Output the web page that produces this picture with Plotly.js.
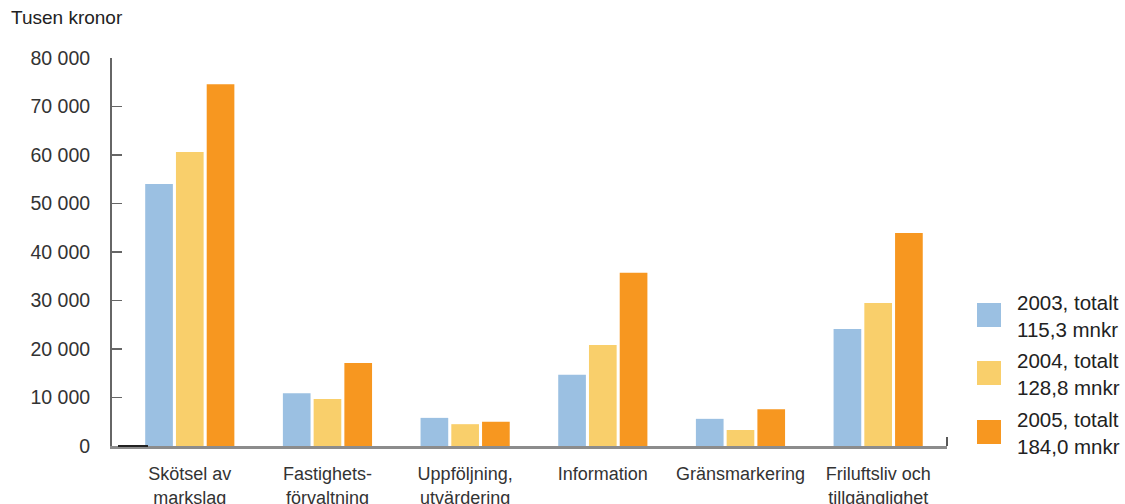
<!DOCTYPE html>
<html>
<head>
<meta charset="utf-8">
<script src="https://cdn.plot.ly/plotly-3.0.1.min.js"></script>
<style>
html,body{margin:0;padding:0;background:#fff;}
#chart{width:1125px;height:504px;}
</style>
</head>
<body>
<div id="chart"></div>
<script>
var categories = ["Skötsel av<br>markslag", "Fastighets-<br>förvaltning", "Uppföljning,<br>utvärdering", "Information", "Gränsmarkering", "Friluftsliv och<br>tillgänglighet"];
var seriesNames = ["2003, totalt<br>115,3 mnkr", "2004, totalt<br>128,8 mnkr", "2005, totalt<br>184,0 mnkr"];
var values2003 = [54000, 10900, 5800, 14700, 5600, 24100];
var values2004 = [60600, 9700, 4500, 20800, 3300, 29500];
var values2005 = [74600, 17100, 5000, 35700, 7600, 43900];
var seriesColors = ["#9bc0e2", "#f9cf6b", "#f79720"];
var yTickVals = [0, 10000, 20000, 30000, 40000, 50000, 60000, 70000, 80000];
var yTickText = ["0", "10 000", "20 000", "30 000", "40 000", "50 000", "60 000", "70 000", "80 000"];

var W = 1125, H = 504;
var mL = 112, mR = 178, mT = 58, mB = 58;
var pw = W - mL - mR, ph = H - mT - mB;
function px(x){ return (x - mL) / pw; }
function py(y){ return (H - mB - y) / ph; }

var FONT = "Liberation Sans, Arial, sans-serif";
var allValues = [values2003, values2004, values2005];
var traces = allValues.map(function(v, i){
  return {
    type: "bar",
    x: categories,
    y: v,
    name: seriesNames[i],
    marker: {color: seriesColors[i], line: {width: 0}},
    showlegend: false,
    hoverinfo: "x+y"
  };
});

var shapes = [];
var annotations = [];
// custom legend
var legendCenters = [315, 373, 432];
seriesNames.forEach(function(n, i){
  var c = legendCenters[i];
  shapes.push({type: "rect", xref: "paper", yref: "paper",
    x0: px(977), x1: px(1001), y0: py(c + 12), y1: py(c - 12),
    fillcolor: seriesColors[i], line: {width: 0}});
  annotations.push({xref: "paper", yref: "paper", x: px(1015), y: py(c + 1),
    xanchor: "left", yanchor: "middle", align: "left", showarrow: false,
    text: n, font: {family: FONT, size: 20.5, color: "#222"}});
});
// small end tick on x-axis and short dark segment at origin
shapes.push({type: "line", xref: "paper", yref: "paper", x0: 1, x1: 1, y0: 0, y1: py(437), line: {color: "#222", width: 1.5}});
shapes.push({type: "line", xref: "paper", yref: "paper", x0: px(118), x1: px(148), y0: 0, y1: 0, line: {color: "#222", width: 2}});

annotations.push({xref: "paper", yref: "paper", x: px(9), y: py(18), xanchor: "left", yanchor: "middle",
  showarrow: false, text: "Tusen kronor", font: {family: FONT, size: 19, color: "#222"}});

var layout = {
  width: W, height: H,
  margin: {l: mL, r: mR, t: mT, b: mB, pad: 0},
  paper_bgcolor: "#fff", plot_bgcolor: "#fff",
  barmode: "group", bargap: 0.33, bargroupgap: 0.1,
  font: {family: FONT, size: 18, color: "#333"},
  xaxis: {
    type: "category", range: [-0.565, 5.50], fixedrange: true,
    showline: true, linecolor: "#8c8c8c", linewidth: 2.5,
    ticks: "", showgrid: false, zeroline: false,
    tickfont: {family: FONT, size: 18, color: "#333"},
    ticklabelstandoff: 10
  },
  yaxis: {
    range: [0, 80000], fixedrange: true,
    tickvals: yTickVals, ticktext: yTickText,
    showline: true, linecolor: "#666", linewidth: 2,
    ticks: "inside", ticklen: 10, tickcolor: "#666", tickwidth: 1.5,
    showgrid: false, zeroline: false,
    tickfont: {family: FONT, size: 19.5, color: "#333"},
    ticklabelstandoff: 16
  },
  shapes: shapes,
  annotations: annotations
};

Plotly.newPlot("chart", traces, layout, {displayModeBar: false, staticPlot: true});
</script>
</body>
</html>
